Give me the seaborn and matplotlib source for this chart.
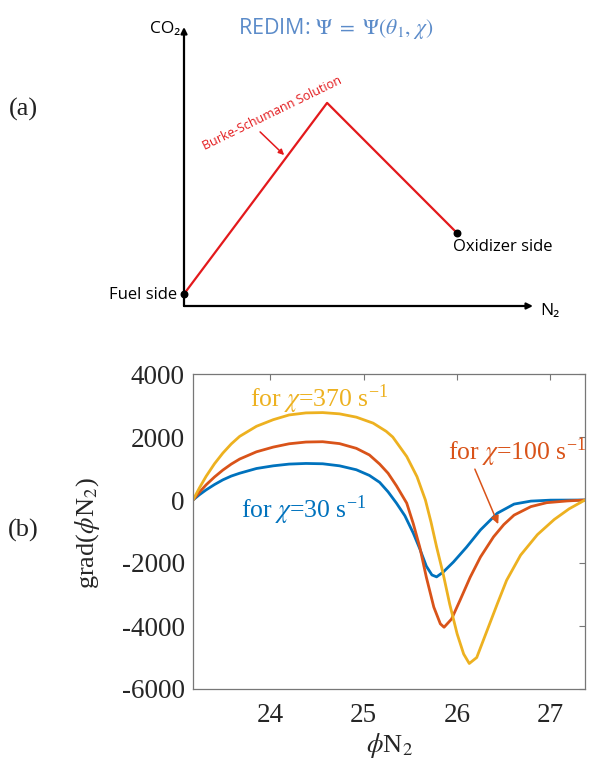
import matplotlib
matplotlib.use("Agg")
import matplotlib.pyplot as plt
import numpy as np
import pandas as pd
import seaborn as sns

# ---- panel (b) data: grad(phi N2) vs phi N2 for three strain rates ----
x_30 = [23.17, 23.24, 23.31, 23.40, 23.49, 23.58, 23.67, 23.85, 24.03, 24.20,
        24.38, 24.56, 24.74, 24.92, 25.06, 25.17, 25.26, 25.35, 25.44, 25.53,
        25.60, 25.67, 25.73, 25.78, 25.85, 25.96, 26.10, 26.25, 26.43, 26.61,
        26.79, 27.00, 27.37]
y_30 = [0, 170, 320, 490, 640, 760, 850, 1000, 1085, 1140,
        1160, 1150, 1085, 960, 780, 560, 260, -100, -500, -1050,
        -1550, -2100, -2380, -2440, -2290, -1970, -1500, -950, -420, -130,
        -35, -5, 0]

x_100 = [23.17, 23.24, 23.31, 23.40, 23.49, 23.58, 23.67, 23.85, 24.03, 24.20,
         24.38, 24.56, 24.74, 24.92, 25.06, 25.17, 25.26, 25.35, 25.46, 25.53,
         25.60, 25.67, 25.75, 25.82, 25.86, 25.94, 26.03, 26.14, 26.25, 26.39,
         26.50, 26.61, 26.79, 26.96, 27.18, 27.37]
y_100 = [0, 250, 480, 730, 950, 1140, 1300, 1530, 1680, 1785,
         1840, 1850, 1790, 1640, 1430, 1140, 850, 450, -100, -750,
         -1500, -2450, -3400, -3930, -4040, -3780, -3190, -2450, -1810, -1170,
         -780, -480, -210, -85, -30, 0]

x_370 = [23.17, 23.24, 23.31, 23.40, 23.49, 23.58, 23.67, 23.85, 24.03, 24.20,
         24.38, 24.56, 24.74, 24.92, 25.10, 25.24, 25.31, 25.46, 25.57, 25.66,
         25.72, 25.78, 25.85, 25.92, 26.00, 26.07, 26.13, 26.21, 26.32, 26.43,
         26.53, 26.68, 26.86, 27.04, 27.20, 27.37]
y_370 = [0, 390, 750, 1150, 1490, 1780, 2020, 2340, 2550, 2700,
         2765, 2775, 2735, 2630, 2440, 2180, 2000, 1380, 740, 0,
         -700, -1490, -2340, -3300, -4250, -4890, -5190, -5000, -4150, -3300,
         -2550, -1750, -1100, -620, -280, 0]

series_names = ["30", "100", "370"]
series_colors = ["#0072BD", "#D95319", "#EDB120"]
x_ticks = [24, 25, 26, 27]
y_ticks = [-6000, -4000, -2000, 0, 2000, 4000]

# ---- panel (a) schematic: Burke-Schumann solution in (N2, CO2) ----
bs_n2 = [0.0, 0.41, 0.782]
bs_co2 = [0.043, 0.728, 0.262]

sns.set_theme(style="white")
plt.rcParams["font.family"] = ["Liberation Serif", "DejaVu Serif"]
plt.rcParams["mathtext.fontset"] = "stix"
plt.rcParams["axes.unicode_minus"] = False

fig = plt.figure(figsize=(5.98, 7.62), dpi=100)

# ---------------- panel (a) ----------------
ax_a = fig.add_axes([184 / 598, 1 - 306 / 762, 349 / 598, 279 / 762])
ax_a.set_xlim(0, 1)
ax_a.set_ylim(0, 1)
ax_a.axis("off")

sans = ["Open Sans", "DejaVu Sans"]
sns.lineplot(x=bs_n2, y=bs_co2, ax=ax_a, color="#E3191C", lw=1.6,
             sort=False, estimator=None)
ax_a.scatter([bs_n2[0], bs_n2[-1]], [bs_co2[0], bs_co2[-1]], s=22,
             color="black", zorder=5, clip_on=False)

arrow_kw = dict(arrowstyle="-|>", lw=1.6, color="black", mutation_scale=9,
                shrinkA=0, shrinkB=0)
ax_a.annotate("", xy=(1, 0), xytext=(0, 0), xycoords="axes fraction",
              arrowprops=arrow_kw)
ax_a.annotate("", xy=(0, 1), xytext=(0, 0), xycoords="axes fraction",
              arrowprops=arrow_kw)

ax_a.text(-0.012, 0.993, "CO₂", family=sans, fontsize=12.5, ha="right",
          va="center", color="black")
ax_a.text(1.02, -0.018, "N₂", family=sans, fontsize=12.5, ha="left",
          va="center", color="black")
ax_a.text(-0.02, 0.039, "Fuel side", family=sans, fontsize=12, ha="right",
          va="center", color="black")
ax_a.text(0.912, 0.212, "Oxidizer side", family=sans, fontsize=12,
          ha="center", va="center", color="black")
ax_a.text(0.436, 0.996, r"REDIM: $\Psi\ =\ \Psi(\theta_1,\,\chi)$",
          family=sans, fontsize=15.5, ha="center", va="center",
          color="#5B8BC9")
ax_a.text(0.253, 0.69, "Burke-Schumann Solution", family=sans, fontsize=9,
          ha="center", va="center", rotation=26, color="#E3191C")
ax_a.annotate("", xy=(0.287, 0.541), xytext=(0.218, 0.624),
              xycoords="data",
              arrowprops=dict(arrowstyle="-|>", lw=1.1, color="#E3191C",
                              mutation_scale=8, shrinkA=0, shrinkB=0))
fig.text(23 / 598, 1 - 109 / 762, "(a)", fontsize=19, ha="center",
         va="center", color="#222222")

# ---------------- panel (b) ----------------
ax_b = fig.add_axes([193 / 598, 1 - 689 / 762, 392 / 598, 315 / 762])
frames = []
for name, xs, ys in zip(series_names, [x_30, x_100, x_370],
                        [y_30, y_100, y_370]):
    frames.append(pd.DataFrame({"phiN2": xs, "grad": ys, "chi": name}))
df = pd.concat(frames, ignore_index=True)

sns.lineplot(data=df, x="phiN2", y="grad", hue="chi", hue_order=series_names,
             palette=series_colors, sort=False, estimator=None, lw=2.0,
             legend=False, ax=ax_b)

ax_b.set_xlim(23.17, 27.37)
ax_b.set_ylim(-6000, 4000)
ax_b.set_xticks(x_ticks)
ax_b.set_yticks(y_ticks)
ax_b.tick_params(direction="in", length=4, width=0.8, color="#777777",
                 labelsize=19.5, labelcolor="#262626", top=True, right=True)
ax_b.tick_params(axis="x", pad=10)
ax_b.tick_params(axis="y", pad=6)
for sp in ax_b.spines.values():
    sp.set_color("#777777")
    sp.set_linewidth(0.9)

ax_b.set_xlabel(r"$\phi$N$_2$", fontsize=19, color="#262626")
ax_b.xaxis.set_label_coords(0.5, -0.134)
ax_b.xaxis.label.set_va("top")
ax_b.set_ylabel(r"grad($\phi$N$_2$)", fontsize=19, color="#262626")
ax_b.yaxis.set_label_coords(-0.232, 0.495)

ax_b.text(23.785, 3190, r"for $\chi$=370 s$^{\mathregular{-1}}$",
          fontsize=18.5, color=series_colors[2], ha="left", va="center")
ax_b.text(23.685, -330, r"for $\chi$=30 s$^{\mathregular{-1}}$",
          fontsize=18.5, color=series_colors[0], ha="left", va="center")
ax_b.text(25.90, 1530, r"for $\chi$=100 s$^{\mathregular{-1}}$",
          fontsize=18.5, color=series_colors[1], ha="left", va="center",
          clip_on=False)
ax_b.annotate("", xy=(26.44, -765), xytext=(26.19, 980),
              arrowprops=dict(arrowstyle="-|>", lw=1.1,
                              color=series_colors[1], mutation_scale=12,
                              shrinkA=0, shrinkB=0))

fig.text(23 / 598, 1 - 530 / 762, "(b)", fontsize=19, ha="center",
         va="center", color="#222222")

fig.savefig("out.png", dpi=100, facecolor="white")
plt.close(fig)
